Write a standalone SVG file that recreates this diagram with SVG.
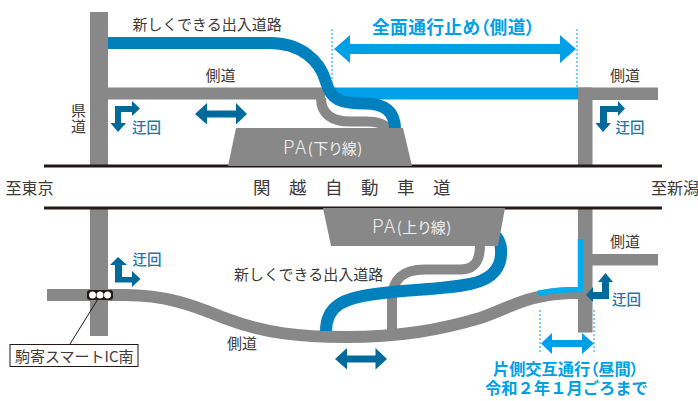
<svg xmlns="http://www.w3.org/2000/svg" width="698" height="401" viewBox="0 0 698 401">
<style>
text{font-family:"Noto Sans CJK JP","Noto Sans",sans-serif}
.lb{font-size:15px;fill:#3e3a39}
.big{font-size:16px;fill:#3e3a39}
.cy{font-weight:700;fill:#00a0e9}
.p{font-feature-settings:"palt"}
.dt{font-size:14.500px;fill:#1a7aa8;font-weight:500}
.pa{font-size:15px;fill:#eee;font-feature-settings:"palt";letter-spacing:.5px}
.pa tspan{font-size:19px;font-weight:300;letter-spacing:1.500px}
.g{fill:none;stroke:#888}
.b{fill:none;stroke:#0080bd;stroke-width:12}
.da{fill:#006a9c}
.ca{fill:#00a0e9}
.dot{stroke:#00a0e9;stroke-width:1;stroke-dasharray:2 2;fill:none}
</style>
<g id="roads">
<rect x="90" y="12" width="18" height="154" fill="#888"/>
<rect x="90" y="208" width="18" height="128" fill="#888"/>
<rect x="578" y="87.500" width="80" height="12.500" fill="#888"/>
<rect x="578" y="87.500" width="14.500" height="79" fill="#888"/>
<rect x="578" y="208" width="14.500" height="124.500" fill="#888"/>
<rect x="590" y="254" width="68" height="11.500" fill="#888"/>
<path d="M108 93.500H325" class="g" stroke-width="12"/>
<path d="M321 98C321 114 332 121.500 350 121.500H365C378 121.500 385 124 388 129" class="g" stroke-width="10"/>
<path d="M47 295H125C175 295 205 311 230 320C265 333 300 337 345 337C400 337 440 330 480 318C510 308 525 295 570 293H590" class="g" stroke-width="12"/>
<path d="M392 332V300C392 280 402 269.500 425 269.500H460C474 269.500 480 262 480 245" class="g" stroke-width="10"/>
</g>
<g id="highway">
<path d="M44 166H662M44 208H662" fill="none" stroke="#231815" stroke-width="3"/>
</g>
<g id="closed-road">
<path d="M333 93.500H578" fill="none" stroke="#00a0e9" stroke-width="12"/>
<path d="M580.500 239V289.500C565 289.500 550 290.500 538 293.500" fill="none" stroke="#00aeef" stroke-width="5.500"/>
</g>
<g id="new-road">
<path d="M108 43H270C300 43 320 60 326 82C331 100 340 103.500 365 103.500C385 103.500 395 112 395 129" class="b"/>
<path d="M326 331C326 305 345 298 375 294C410 289 440 290 470 284C495 279 502 265 501 250C501 244 499 240 496 236" class="b"/>
</g>
<g id="pa-up">
<path d="M236 128H403L412 166H228Z" fill="#888"/>
<text x="283" y="154" class="pa"><tspan>PA</tspan>(下り線)</text>
</g>
<g id="pa-down">
<path d="M323 208H505L498 246H331Z" fill="#888"/>
<text x="372" y="233" class="pa"><tspan>PA</tspan>(上り線)</text>
</g>
<g id="labels">
<text x="132.500" y="29.500" class="lb">新しくできる出入道路</text>
<text x="205.500" y="81" class="lb">側道</text>
<text x="610" y="81" class="lb">側道</text>
<text x="610" y="247" class="lb">側道</text>
<text x="227" y="349" class="lb">側道</text>
<text x="234" y="280" class="lb">新しくできる出入道路</text>
<text x="5.500" y="194" class="big">至東京</text>
<text x="651" y="194" class="big">至新潟</text>
<text x="253" y="194" class="big" style="font-size:17.500px;letter-spacing:18.500px">関越自動車道</text>
<text x="78.500" y="102.500" class="lb" style="writing-mode:vertical-rl;letter-spacing:1px">県道</text>
<text x="372" y="34" class="cy p" style="font-size:17.700px;letter-spacing:.4px">全面通行止め（側道）</text>
<text x="493" y="375" class="cy p" style="font-size:16.200px">片側交互通行（昼間）</text>
<text x="485" y="394" class="cy" style="font-size:16.300px">令和２年１月ごろまで</text>
<text x="132" y="133" class="dt">迂回</text>
<text x="615.500" y="133" class="dt">迂回</text>
<text x="132.500" y="265" class="dt">迂回</text>
<text x="612" y="305" class="dt">迂回</text>
</g>
<g id="arrows">
<path d="M195 114L207 103V110.500H236V103L247 114L236 124.500V117.500H207V124.500Z" class="da"/>
<path d="M335 359L347 348V355.500H375.500V348L387 359L375.500 369.500V362.500H347V369.500Z" class="da"/>
<path d="M334 49L350 35V44H560V35L576 49L560 63V54H350V63Z" class="ca"/>
<path d="M541 343.500L552 333V340H582V333L594 343.500L582 354V347H552V354Z" class="ca"/>
<path d="M115 106H132V101L140 108.500L132 116V112H121V123H126L118 132L110.500 123H115Z" class="da"/>
<path d="M600 106H618V101L625 108.500L618 116V112H607V123H611L603 132L595.500 123H600Z" class="da"/>
<path d="M115 265H110L118 257L127 265H122V277H132V271L140.500 279L132 287V282.500H115Z" class="da"/>
<path d="M602 282H598L605.500 273L613 282H609V299H593V302L586 295L593 287V292H602Z" class="da"/>
</g>
<g id="guides">
<path d="M332 29V87M577 29V87M540 310V352M594 310V352" class="dot"/>
</g>
<g id="signal">
<line x1="98" y1="299" x2="70" y2="344" stroke="#231815"/>
<rect x="87" y="290" width="26" height="10" rx="3" fill="#231815"/>
<circle cx="92.500" cy="295" r="3.500" fill="#fff"/><circle cx="100" cy="295" r="3.500" fill="#fff"/><circle cx="107.500" cy="295" r="3.500" fill="#fff"/>
</g>
<g id="ic-label">
<rect x="10" y="344.500" width="128" height="22" fill="#fff" stroke="#231815"/>
<text x="15" y="361.500" class="lb">駒寄スマートIC南</text>
</g>
</svg>
